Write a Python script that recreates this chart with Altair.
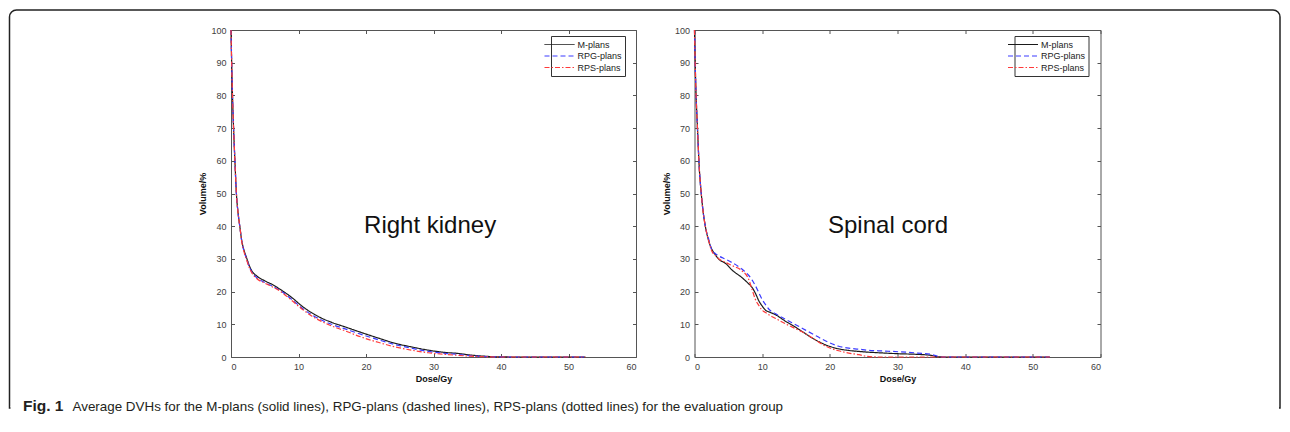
import altair as alt
import pandas as pd

FONT = "Liberation Sans"

PLANS = ["M-plans", "RPG-plans", "RPS-plans"]
COLORS = ["#1a1a1a", "#3a3aff", "#ff3a3a"]
DASHES = [[1, 0], [5, 3], [5, 2, 1.5, 2]]

# ---- Right kidney (dose in Gy, volume in %) ----
kidney_dose = [0, 0.1, 0.22, 0.38, 0.58, 0.8, 1.05, 1.3, 1.6, 1.95,
               2.3, 2.7, 3.1, 3.8, 5.0, 6.0, 7.5, 9.0, 10.5, 11.9,
               13.4, 14.9, 16.9, 19.3, 21.8, 24.3, 26.7, 29.2, 31.7, 33.6,
               35.5, 37.5, 39.5, 42.0, 52.5]
kidney_m = [100, 90, 80, 70, 60, 50, 44, 40, 35.5, 32.5,
            30.4, 28.0, 26.3, 24.8, 23.3, 22.3, 20.4, 18.2, 15.6, 13.6,
            11.9, 10.6, 9.2, 7.5, 5.8, 4.2, 3.1, 2.1, 1.4, 1.1,
            0.6, 0.25, 0.05, 0, 0]
kidney_rpg = [100, 90, 80, 70, 60, 50, 44, 40, 35.3, 32.2,
              30.0, 27.6, 25.9, 24.3, 22.8, 21.8, 20.0, 17.6, 15.0, 13.0,
              11.3, 10.0, 8.6, 6.9, 5.3, 3.8, 2.7, 1.7, 1.1, 0.8,
              0.4, 0.15, 0.03, 0, 0]
kidney_rps = [100, 90, 80, 70, 60, 50, 44, 40, 35.2, 32.0,
              29.8, 27.4, 25.7, 24.0, 22.6, 21.6, 19.8, 17.3, 14.7, 12.6,
              10.9, 9.5, 8.0, 6.1, 4.5, 3.1, 2.1, 1.3, 0.8, 0.5,
              0.25, 0.08, 0.0, 0, 0]

# ---- Spinal cord ----
cord_dose = [0, 0.1, 0.22, 0.44, 0.7, 1.0, 1.3, 1.6, 2.1, 2.6,
             3.1, 3.6, 4.6, 5.6, 7.0, 8.0, 8.5, 9.0, 9.5, 10.0,
             10.5, 11.0, 12.0, 13.4, 14.4, 15.9, 17.4, 19.4, 21.3, 22.8,
             24.3, 25.5, 27.2, 30.2, 33.0, 35.0, 36.0, 37.0, 52.5]
cord_m = [100, 90, 81, 70, 58, 50, 44, 40, 35.5, 32.8,
          31.2, 29.9, 28.6, 26.5, 24.3, 22.4, 21.3, 19.5, 17.2, 15.6,
          14.3, 13.8, 12.9, 11.0, 9.8, 7.8, 5.8, 3.7, 2.5, 2.0,
          1.7, 1.5, 1.3, 1.0, 0.8, 0.5, 0.05, 0, 0]
cord_rpg = [100, 90, 81, 70, 58, 50, 44, 40, 36, 32.5,
            31.6, 30.9, 29.9, 28.8, 26.9, 25.0, 23.6, 21.8, 19.7, 17.6,
            16.0, 14.6, 13.2, 11.6, 10.5, 8.8, 7.1, 4.9, 3.3, 2.7,
            2.4, 2.1, 1.9, 1.6, 1.2, 0.8, 0.2, 0, 0]
cord_rps = [100, 90, 81, 70, 58, 50, 44, 40, 35.5, 32.2,
            31.0, 30.0, 28.9, 27.9, 26.4, 23.8, 20.7, 17.6, 15.8, 14.3,
            13.6, 12.9, 11.8, 10.2, 9.2, 7.7, 5.9, 3.3, 1.9, 1.2,
            0.7, 0.2, 0, 0, 0, 0, 0, 0, 0]

x_ticks = [0, 10, 20, 30, 40, 50, 60]
y_ticks = [0, 10, 20, 30, 40, 50, 60, 70, 80, 90, 100]

CAPTION_BOLD = "Fig. 1"
CAPTION_TEXT = ("Average DVHs for the M-plans (solid lines), RPG-plans (dashed lines), "
                "RPS-plans (dotted lines) for the evaluation group")


def long_df(dose, series):
    rows = []
    for plan, vals in zip(PLANS, series):
        for d, v in zip(dose, vals):
            rows.append({"dose": d, "volume": v, "plan": plan})
    return pd.DataFrame(rows)


kidney_df = long_df(kidney_dose, [kidney_m, kidney_rpg, kidney_rps])
cord_df = long_df(cord_dose, [cord_m, cord_rpg, cord_rps])

H = 327
xs = alt.Scale(domain=[0, 60], nice=False, zero=False)
ys = alt.Scale(domain=[0, 100], nice=False)

axis_common = dict(domain=False, grid=False, ticks=True, tickSize=3.5, offset=-3.5,
                   tickColor="#555555", tickWidth=1,
                   labelFont=FONT, labelFontSize=9, labelColor="#404040",
                   titleFont=FONT, titleFontSize=9, titleFontWeight="bold",
                   titleColor="#111111")

legend = alt.Legend(orient="none", legendX=320, legendY=6, title=None,
                    strokeColor="#333333", fillColor="white", padding=3,
                    symbolType="M-3,0H3", symbolSize=100, symbolStrokeWidth=1,
                    labelFont=FONT, labelFontSize=9, labelColor="#222222",
                    labelOffset=12.5, rowPadding=0.5, cornerRadius=0)


def panel(df, label, label_x, label_y, width, decor=False):
    lines = alt.Chart(df).mark_line(strokeWidth=1.2, interpolate="monotone").encode(
        x=alt.X("dose:Q", scale=xs,
                axis=alt.Axis(orient="bottom", values=x_ticks, title="Dose/Gy",
                              labelPadding=5, titlePadding=3, **axis_common)),
        y=alt.Y("volume:Q", scale=ys,
                axis=alt.Axis(orient="left", values=y_ticks, title="Volume/%",
                              labelPadding=5, titlePadding=3, **axis_common)),
        color=alt.Color("plan:N", scale=alt.Scale(domain=PLANS, range=COLORS), legend=legend),
        strokeDash=alt.StrokeDash("plan:N", scale=alt.Scale(domain=PLANS, range=DASHES), legend=legend),
    )
    mirror = alt.Chart(df).mark_line(opacity=0).encode(
        x=alt.X("dose:Q", scale=xs,
                axis=alt.Axis(orient="top", values=x_ticks, labels=False, title="", **axis_common)),
        y=alt.Y("volume:Q", scale=ys,
                axis=alt.Axis(orient="right", values=y_ticks, labels=False, title="", **axis_common)),
    )
    note = alt.Chart(pd.DataFrame({"x": [label_x], "y": [label_y], "t": [label]})).mark_text(
        font=FONT, fontSize=24, color="#111111", align="center", baseline="middle"
    ).encode(
        x=alt.X("x:Q", scale=xs, axis=None),
        y=alt.Y("y:Q", scale=ys, axis=None),
        text="t:N",
    )
    layers = []
    if decor:
        one = pd.DataFrame({"k": [0]})
        frame = alt.Chart(one).mark_rect(
            fill="transparent", stroke="#222222", strokeWidth=1.5,
            cornerRadiusTopLeft=7, cornerRadiusTopRight=7
        ).encode(x=alt.value(-221.5), x2=alt.value(1049),
                 y=alt.value(-20), y2=alt.value(378))
        mask = alt.Chart(one).mark_rule(color="white", strokeWidth=3).encode(
            x=alt.value(-220.5), x2=alt.value(1048), y=alt.value(378))
        cap1 = alt.Chart(one).mark_text(
            font=FONT, fontSize=15.5, fontWeight="bold", color="#231f20",
            align="left", baseline="alphabetic", text=CAPTION_BOLD
        ).encode(x=alt.value(-208), y=alt.value(381))
        cap2 = alt.Chart(one).mark_text(
            font=FONT, fontSize=13.4, color="#231f20",
            align="left", baseline="alphabetic", text=CAPTION_TEXT
        ).encode(x=alt.value(-158.5), y=alt.value(381))
        layers = [frame, mask, cap1, cap2]
    return alt.layer(*layers, mirror, lines, note).resolve_axis(
        x="independent", y="independent"
    ).properties(width=width, height=H)


left = panel(kidney_df, "Right kidney", 29.5, 40, 405, decor=True)
right = panel(cord_df, "Spinal cord", 28.6, 40, 406)

chart = alt.hconcat(left, right, spacing=58.5, bounds="flush").resolve_scale(
    color="independent", strokeDash="independent"
).resolve_legend(color="independent", strokeDash="independent").configure_view(
    stroke="#555555", strokeWidth=1
).properties(padding=0, background="white")

chart.save("out.html", embed_options={"renderer": "svg", "actions": False})
